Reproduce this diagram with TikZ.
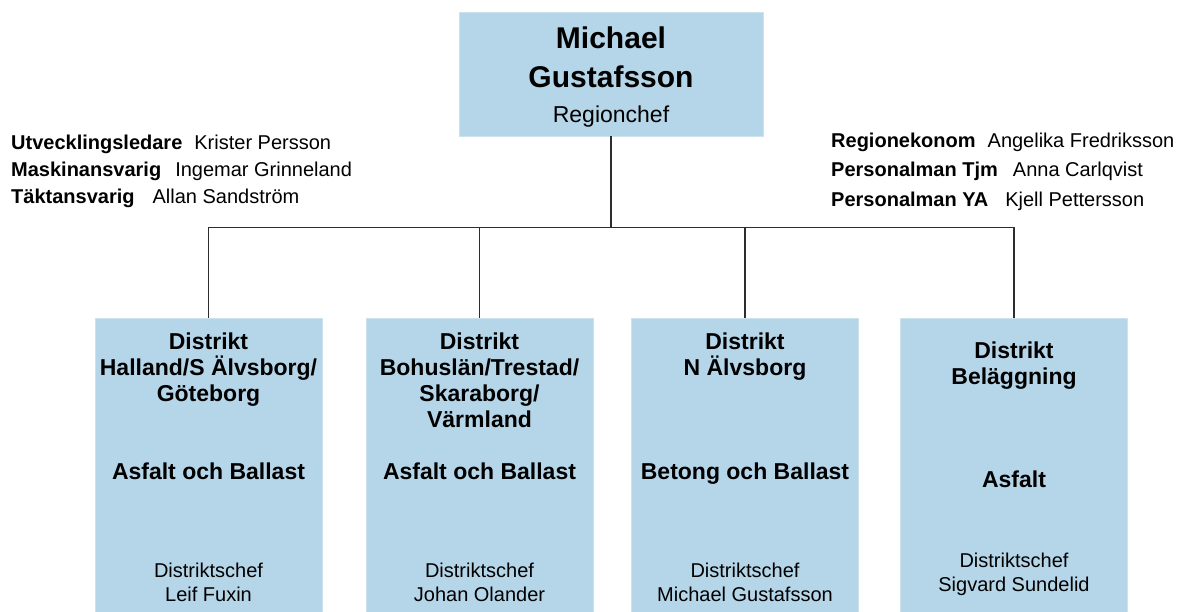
\documentclass[tikz,border=0pt]{standalone}
\usepackage{fontspec}
\setmainfont{Liberation Sans}
\usepackage{xcolor}
\usepackage{tikz}
\usetikzlibrary{positioning}

\definecolor{boxblue}{RGB}{181,213,232}
\definecolor{edgeblue}{RGB}{205,226,239}
\definecolor{linegray}{RGB}{45,45,45}

\begin{document}
\begin{tikzpicture}[x = 1pt, y = 1pt, node distance = 268.5pt, on grid, chefbox/.style = {rectangle, fill = boxblue, draw = edgeblue, minimum width = 304pt, minimum height = 124pt}, unit/.style = {rectangle, fill = boxblue, draw = edgeblue, minimum width = 227pt, minimum height = 300pt}, head/.style = {anchor = north, align = center, inner sep = 0pt, font = \fontsize{23}{25.7}\selectfont\bfseries}, prod/.style = {anchor = base, inner sep = 0pt, font = \fontsize{23}{26}\selectfont\bfseries}, boss/.style = {anchor = north, align = center, inner sep = 0pt, font = \fontsize{20}{23.5}\selectfont}, staff/.style = {anchor = north west, align = left, inner sep = 0pt, font = \fontsize{20}{27}\selectfont}, conn/.style = {draw = linegray, line width = 1.15pt}]
\useasboundingbox (0,0) rectangle (1181,-611);
\node[chefbox] (chef) at (611,-74) {};
\node[unit] (d1) at (208.5,-468) {};
\node[unit] (d2) [right = 271pt of d1] {};
\node[unit] (d3) [right = 265.5pt of d2] {};
\node[unit] (d4) [right = 269pt of d3] {};
\coordinate (bus) at ([yshift=-91]chef.south);
\draw[conn] (chef.south) -- (bus);
\draw[conn] (d1.north) |- (bus) -| (d4.north);
\draw[conn] (d2.north) -- (d2.north |- bus);
\draw[conn] (d3.north) -- (d3.north |- bus);
\node[anchor = north, align = center, inner sep = 0pt, font = \fontsize{30}{39}\selectfont\bfseries] (chefname) at ([yshift=-15]chef.north) {Michael\\Gustafsson\\[-4pt]{\mdseries\fontsize{23}{27}\selectfont Regionchef}};
\node[staff] (staffL) at (11,-134.4) {\textbf{Utvecklingsledare}\hspace{0.6em}Krister Persson\\\textbf{Maskinansvarig}\hspace{0.7em}Ingemar Grinneland\\\textbf{Täktansvarig}\hspace{0.9em}Allan Sandström};
\node[staff, font = \fontsize{20}{29.5}\selectfont] (staffR) at (831,-132.4) {\textbf{Regionekonom}\hspace{0.6em}Angelika Fredriksson\\\textbf{Personalman Tjm}\hspace{0.75em}Anna Carlqvist\\\textbf{Personalman YA}\hspace{0.85em}Kjell Pettersson};
\node[head] (head1) at ([yshift=-15.3]d1.north) {Distrikt\\Halland/S Älvsborg/\\Göteborg};
\node[prod] (prod1) at ([yshift=-162]d1.north) {Asfalt och Ballast};
\node[boss] (boss1) at ([yshift=-245.4]d1.north) {Distriktschef\\Leif Fuxin};
\node[head] (head2) at ([yshift=-15.3]d2.north) {Distrikt\\Bohuslän/Trestad/\\Skaraborg/\\Värmland};
\node[prod] (prod2) at ([yshift=-162]d2.north) {Asfalt och Ballast};
\node[boss] (boss2) at ([yshift=-245.4]d2.north) {Distriktschef\\Johan Olander};
\node[head] (head3) at ([yshift=-15.3]d3.north) {Distrikt\\N Älvsborg};
\node[prod] (prod3) at ([yshift=-162]d3.north) {Betong och Ballast};
\node[boss] (boss3) at ([yshift=-245.4]d3.north) {Distriktschef\\Michael Gustafsson};
\node[head] (head4) at ([yshift=-24.3]d4.north) {Distrikt\\Beläggning};
\node[prod] (prod4) at ([yshift=-170]d4.north) {Asfalt};
\node[boss] (boss4) at ([yshift=-235.4]d4.north) {Distriktschef\\Sigvard Sundelid};
\end{tikzpicture}
\end{document}
